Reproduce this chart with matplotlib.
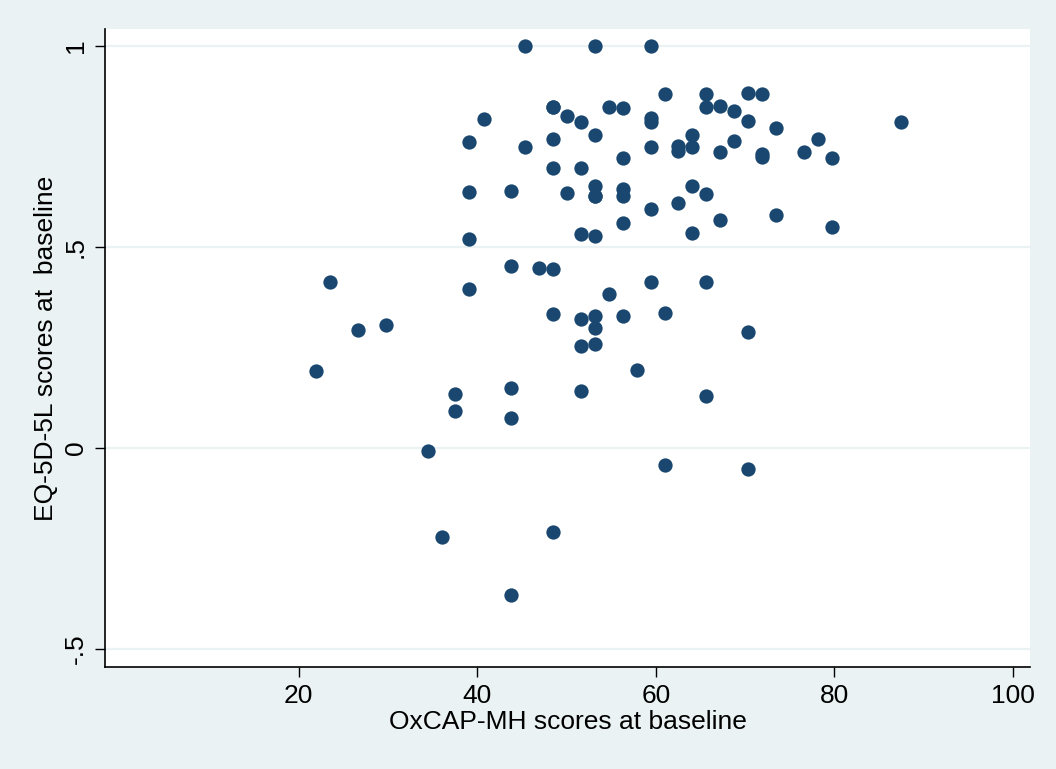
import numpy as np
import matplotlib
matplotlib.use('Agg')
import matplotlib.pyplot as plt

plt.rcParams['font.family'] = ['Liberation Sans', 'DejaVu Sans']

# OxCAP-MH (x) and EQ-5D-5L (y) at baseline
oxcap = [21.98, 23.55, 26.65, 29.75, 34.45, 36.0, 37.55, 37.55,
         39.1, 39.1, 39.1, 39.1, 40.7,
         43.8, 43.8, 43.8, 43.8, 43.8,
         45.36, 45.36, 46.9,
         48.46, 48.46, 48.46, 48.46, 48.46, 48.46, 48.46,
         50.06, 50.06,
         51.6, 51.6, 51.6, 51.6, 51.6, 51.6,
         53.17, 53.17, 53.17, 53.17, 53.17, 53.17, 53.17, 53.17, 53.17,
         54.7, 54.7,
         56.27, 56.27, 56.27, 56.27, 56.27, 56.27,
         57.83,
         59.4, 59.4, 59.4, 59.4, 59.4, 59.4,
         60.97, 60.97, 60.97,
         62.5, 62.5, 62.5,
         64.07, 64.07, 64.07, 64.07,
         65.64, 65.64, 65.64, 65.64, 65.64,
         67.2, 67.2, 67.2,
         68.74, 68.74,
         70.3, 70.3, 70.3, 70.3,
         71.88, 71.88, 71.88,
         73.45, 73.45,
         76.55, 78.12, 79.7, 79.7, 87.45]
eq5d = [0.190, 0.413, 0.292, 0.306, -0.009, -0.222, 0.133, 0.092,
        0.760, 0.635, 0.519, 0.396, 0.818,
        0.638, 0.451, 0.149, 0.075, -0.367,
        1.0, 0.747, 0.447,
        0.847, 0.767, 0.695, 0.444, 0.332, -0.209, 0.847,
        0.826, 0.633,
        0.809, 0.695, 0.532, 0.320, 0.254, 0.142,
        1.0, 0.777, 0.652, 0.626, 0.527, 0.327, 0.297, 0.259, 0.626,
        0.847, 0.382,
        0.845, 0.720, 0.643, 0.626, 0.560, 0.327,
        0.193,
        1.0, 0.819, 0.811, 0.748, 0.593, 0.413,
        0.879, 0.335, -0.043,
        0.751, 0.738, 0.610,
        0.778, 0.749, 0.650, 0.533,
        0.879, 0.847, 0.632, 0.413, 0.130,
        0.849, 0.735, 0.567,
        0.837, 0.762,
        0.882, 0.812, 0.288, -0.053,
        0.879, 0.731, 0.724,
        0.795, 0.579,
        0.735, 0.767, 0.721, 0.548, 0.809]

xticks = [20, 40, 60, 80, 100]
yticks = [-0.5, 0, 0.5, 1]
ytick_labels = ['-.5', '0', '.5', '1']

bg = '#EAF2F3'
navy = '#1A476F'

fig = plt.figure(figsize=(10.56, 7.69), dpi=100, facecolor=bg)
ax = fig.add_axes([0.0994, 0.1326, 0.876, 0.8297])
ax.set_facecolor('white')

ax.scatter(oxcap, eq5d, s=106, color=navy, linewidths=0, zorder=3)

ax.set_xlim(-1.7, 101.9)
ax.set_ylim(-0.545, 1.0415)

ax.set_xticks(xticks)
ax.set_yticks(yticks)
ax.set_yticklabels(ytick_labels, rotation=90, va='center')
ax.tick_params(axis='both', direction='out', length=7.5, width=1,
               labelsize=19, colors='black', pad=5)

# horizontal grid only, like Stata's s2color scheme
ax.grid(axis='y', color=bg, lw=1.6, zorder=0)
ax.grid(axis='x', visible=False)

for s in ['top', 'right']:
    ax.spines[s].set_visible(False)
for s in ['left', 'bottom']:
    ax.spines[s].set_linewidth(1.2)
    ax.spines[s].set_color('black')

ax.set_xlabel('OxCAP-MH scores at baseline', fontsize=19, labelpad=1)
ax.set_ylabel('EQ-5D-5L scores at  baseline', fontsize=19, labelpad=4)

fig.savefig('out.png', dpi=100, facecolor=bg)
